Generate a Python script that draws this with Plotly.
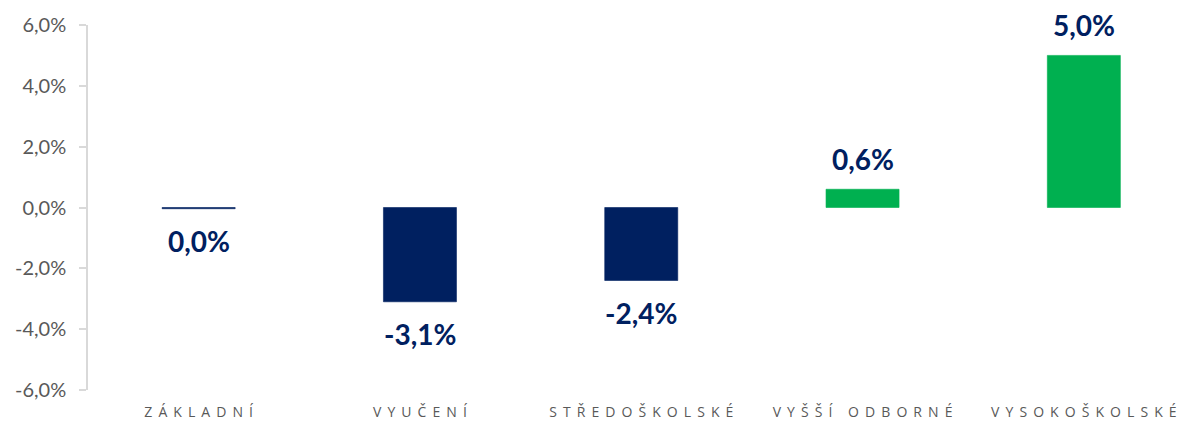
import plotly.graph_objects as go

categories = ["ZÁKLADNÍ", "VYUČENÍ", "STŘEDOŠKOLSKÉ", "VYŠŠÍ ODBORNÉ", "VYSOKOŠKOLSKÉ"]
values = [-0.04, -3.1, -2.4, 0.6, 5.0]  # percent
colors = ["#002060", "#002060", "#002060", "#00B050", "#00B050"]
y_ticks = [-6, -4, -2, 0, 2, 4, 6]
y_ticktext = [f"{v:.1f}%".replace(".", ",") for v in y_ticks]

def fmt(v):
    r = round(v, 1)
    if r == 0:
        r = 0.0
    return f"{r:.1f}%".replace(".", ",")

GAP = "\u2004\u200a"

def spaced(s):
    return GAP.join(s)

labels = [fmt(v) for v in values]
cat_text = [spaced(c) for c in categories]

fig = go.Figure()
fig.add_trace(go.Bar(
    x=categories, y=values,
    marker=dict(color=colors, line=dict(color=colors, width=0.6)),
    width=0.33,
    hoverinfo="skip",
))

for c, v, t in zip(categories, values, labels):
    pos = v > 0
    fig.add_annotation(
        x=c, y=v, text=f"<b>{t}</b>", showarrow=False,
        yanchor="bottom" if pos else "top",
        yshift=11 if pos else -13,
        font=dict(family="Lato", size=28, color="#002060"),
    )

fig.update_layout(
    width=1179, height=426,
    margin=dict(l=88, r=0, t=25, b=36),
    paper_bgcolor="white", plot_bgcolor="white",
    showlegend=False,
    font=dict(family="Lato", color="#595959"),
)
fig.update_xaxes(
    range=[-0.5, 4.43], automargin=False,
    tickmode="array", tickvals=categories, ticktext=cat_text,
    tickfont=dict(family="Open Sans", size=14, color="#595959"),
    showline=False, showgrid=False, zeroline=False, ticks="",
    ticklabelstandoff=12,
)
fig.update_yaxes(
    range=[-6, 6], automargin=False,
    tickmode="array", tickvals=y_ticks, ticktext=y_ticktext,
    tickfont=dict(family="Lato", size=20, color="#595959"),
    showline=True, linecolor="#D9D9D9", linewidth=1.5,
    ticks="outside", ticklen=7, tickcolor="#D9D9D9", tickwidth=1.5,
    showgrid=False, zeroline=False,
    ticklabelstandoff=9,
)

fig.write_html(
    "out.html",
    config={"displayModeBar": False},
    post_script="document.body.style.margin='0';document.body.style.overflow='hidden';",
)
